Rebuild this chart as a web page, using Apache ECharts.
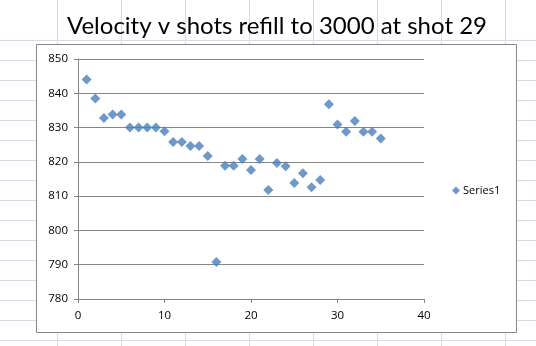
<!DOCTYPE html>
<html>
<head>
<meta charset="utf-8">
<script src="https://cdn.jsdelivr.net/npm/echarts@6/dist/echarts.min.js"></script>
<style>
html,body{margin:0;padding:0;background:#fff;}
#c{width:536px;height:346px;}
</style>
</head>
<body>
<div id="c"></div>
<script>
const shots = [1,2,3,4,5,6,7,8,9,10,11,12,13,14,15,16,17,18,19,20,21,22,23,24,25,26,27,28,29,30,31,32,33,34,35];
const velocity = [844,838.5,832.8,833.8,833.8,830,830,830,830,828.9,825.8,825.8,824.6,824.6,821.7,790.8,818.9,818.9,820.8,817.6,820.8,811.8,819.7,818.7,813.8,816.7,812.6,814.7,836.8,830.9,828.8,831.9,828.8,828.8,826.8];
const xTicks = [0,10,20,30,40];
const yTicks = [780,790,800,810,820,830,840,850];
const seriesName = 'Series1';
const titleText = 'Velocity v shots refill to 3000 at shot 29';

const chart = echarts.init(document.getElementById('c'), null, {renderer:'canvas'});

// spreadsheet background cells (decoration)
const bg = [];
const sheetLine = '#d5dbe6';
for (let x = 57; x < 536; x += 64) {
  bg.push({type:'line', z:-20, silent:true, shape:{x1:x+0.5,y1:0,x2:x+0.5,y2:346}, style:{stroke:sheetLine,lineWidth:1}});
}
for (let y = 40; y < 346; y += 20) {
  bg.push({type:'line', z:-20, silent:true, shape:{x1:0,y1:y+0.5,x2:536,y2:y+0.5}, style:{stroke:sheetLine,lineWidth:1}});
}
bg.push({type:'rect', z:-10, silent:true, shape:{x:36.5,y:44.5,width:480,height:288}, style:{fill:'#ffffff',stroke:'#868686',lineWidth:1}});

chart.setOption({
  animation:false,
  backgroundColor:'#ffffff',
  graphic: bg,
  title:{
    text:titleText,
    left:62, top:9,
    textStyle:{fontFamily:'Lato', fontSize:24, fontWeight:'normal', color:'#000'}
  },
  legend:{
    data:[{name:seriesName, icon:'diamond'}],
    left:447, top:180,
    orient:'vertical',
    itemWidth:8, itemHeight:8, itemGap:4,
    textStyle:{fontFamily:'Open Sans', fontSize:11, color:'#000', padding:[0,0,0,-2]}
  },
  grid:{left:78, right:112, top:59, bottom:47, containLabel:false},
  xAxis:{
    type:'value', min:xTicks[0], max:xTicks[xTicks.length-1], interval:10,
    axisLine:{show:true, onZero:false, lineStyle:{color:'#868686', width:1}},
    axisTick:{show:true, inside:false, length:4, lineStyle:{color:'#868686'}},
    axisLabel:{fontFamily:'Open Sans', fontSize:11.5, color:'#000', margin:11},
    splitLine:{show:false}
  },
  yAxis:{
    type:'value', min:yTicks[0], max:yTicks[yTicks.length-1], interval:10,
    axisLine:{show:true, lineStyle:{color:'#868686', width:1}},
    axisTick:{show:true, inside:false, length:4, lineStyle:{color:'#868686'}},
    axisLabel:{fontFamily:'Open Sans', fontSize:11.5, color:'#000', margin:10},
    splitLine:{show:true, lineStyle:{color:'#868686', width:1}}
  },
  series:[{
    name:seriesName,
    type:'scatter',
    symbol:'diamond',
    symbolSize:10,
    itemStyle:{color:'#4a7ebb'},
    data: shots.map((s,i)=>[s, velocity[i]])
  }]
});
</script>
</body>
</html>
